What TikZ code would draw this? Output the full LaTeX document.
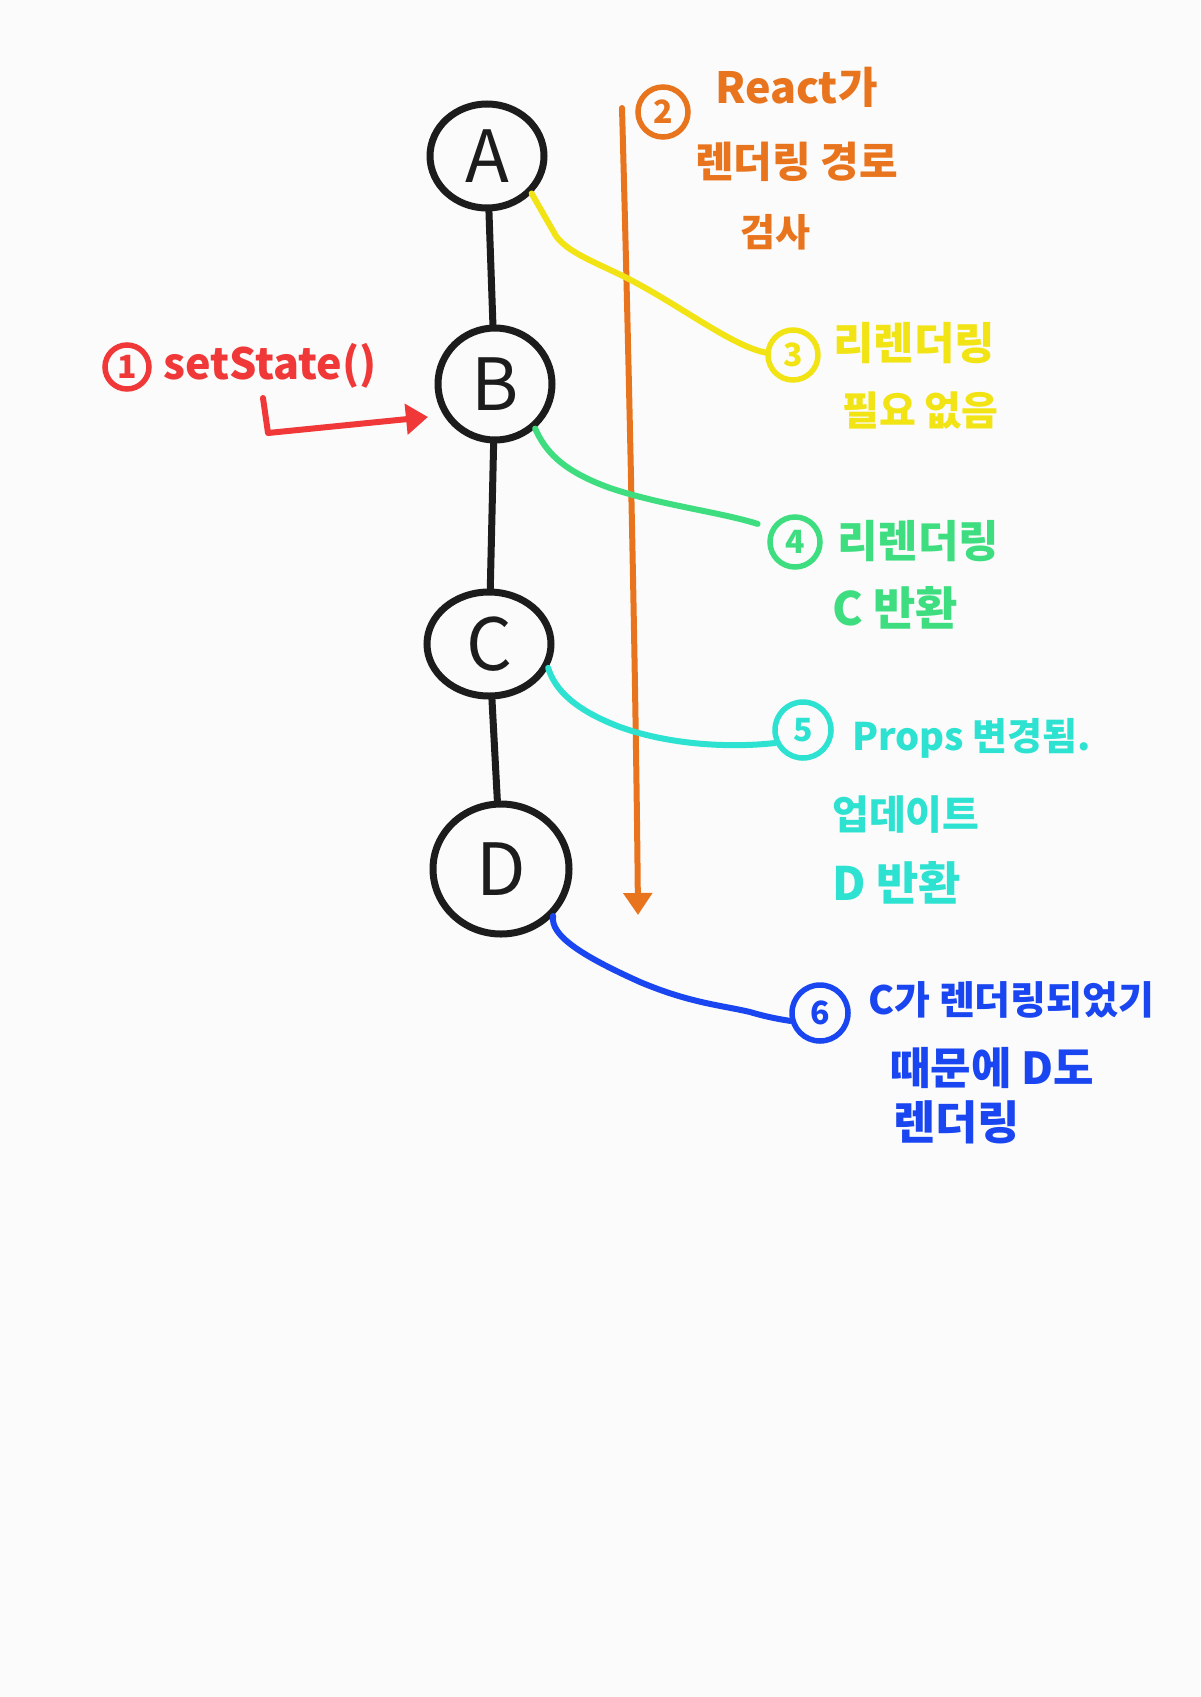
\documentclass[tikz,border=0pt]{standalone}
\usepackage{fontspec}
\newfontfamily\kr{Noto Sans CJK KR}
\usetikzlibrary{shapes.geometric,arrows.meta}
\definecolor{bgc}{RGB}{251,251,251}
\definecolor{cred}{RGB}{240,56,56}
\definecolor{corange}{RGB}{232,117,30}
\definecolor{cyellow}{RGB}{242,228,20}
\definecolor{cgreen}{RGB}{62,222,128}
\definecolor{ccyan}{RGB}{45,226,208}
\definecolor{cblue}{RGB}{25,70,240}
\definecolor{cink}{RGB}{28,28,28}
\tikzset{
  tnode/.style={ellipse, draw=cink, line width=7pt, inner sep=0pt, text=cink,
    font=\kr\fontsize{72}{72}\selectfont},
  numc/.style={circle, draw, line width=5.5pt, minimum size=#1, inner sep=0pt,
    font=\kr\bfseries\fontsize{32}{32}\selectfont},
  numc/.default=50pt,
  lbl/.style={inner sep=0pt, anchor=west, font=\kr\bfseries\fontsize{#1}{#1}\selectfont},
  lbl/.default=44,
  conn/.style={line width=6pt, line cap=round, line join=round},
  treeedge/.style={draw=cink, line width=7pt, line cap=round},
}
\begin{document}
\begin{tikzpicture}[x=1pt,y=-1pt]
\fill[bgc] (0,0) rectangle (1200,1697);
\useasboundingbox (0,0) rectangle (1200,1697);

% tree nodes
\node[tnode, minimum width=114pt, minimum height=104pt] (A) at (487,156) {A};
\node[tnode, minimum width=114pt, minimum height=112pt] (B) at (495,384) {B};
\node[tnode, minimum width=124pt, minimum height=104pt] (C) at (489,644) {C};
\node[tnode, minimum width=136pt, minimum height=130pt] (D) at (501,869) {D};
\draw[treeedge] (A) -- (B);
\draw[treeedge] (B) -- (C);
\draw[treeedge] (C) -- (D);

% 1 setState
\node[numc=44pt, draw=cred, text=cred] (n1) at (127,367) {1};
\node[lbl=43, text=cred] (t1) at (163,366) {setState()};
\coordinate (r1) at (263,398);
\coordinate (r2) at (268,433);
\coordinate (r3) at (428,417);
\draw[conn, cred, -{Triangle[length=22pt,width=30pt]}] (r1) -- (r2) -- (r3);

% 2 React
\coordinate (o1) at (622,108);
\coordinate (o2) at (638,915);
\draw[conn, corange, -{Triangle[length=22pt,width=28pt]}]
  (o1) .. controls (630,400) and (636,700) .. (o2);
\node[numc, draw=corange, text=corange] (n2) at (663,112) {2};
\node[lbl=43, text=corange] at (715,87) {React가};
\node[lbl=42, text=corange] at (695,162) {렌더링 경로};
\node[lbl=38, text=corange] at (740,232) {검사};

% 3
\node[numc, draw=cyellow, text=cyellow] (n3) at (793,355) {3};
\node[lbl=44, text=cyellow] at (833,343) {리렌더링};
\node[lbl=40, text=cyellow] at (842,411) {필요 없음};
\draw[conn, cyellow] (A.-40) -- (556,236) .. controls (568,252) and (590,260) .. (625,277)
  .. controls (680,305) and (730,345) .. (n3.175);

% 4
\node[numc, draw=cgreen, text=cgreen] (n4) at (795,542) {4};
\node[lbl=44, text=cgreen] at (837,541) {리렌더링};
\node[lbl=46, text=cgreen] at (832,608) {C 반환};
\draw[conn, cgreen, shorten >=14pt] (B.-48) .. controls (545,450) and (560,470) .. (610,488)
  .. controls (660,505) and (720,512) .. (n4.150);

% 5
\node[numc=56pt, draw=ccyan, text=ccyan] (n5) at (803,730) {5};
\node[lbl=38, text=ccyan] at (852,738) {Props 변경됨.};
\node[lbl=40, text=ccyan] at (832,815) {업데이트};
\node[lbl=46, text=ccyan] at (832,883) {D 반환};
\draw[conn, ccyan] (C.-22) .. controls (555,690) and (575,710) .. (620,727)
  .. controls (670,745) and (730,748) .. (n5.205);

% 6
\node[numc=56pt, draw=cblue, text=cblue] (n6) at (820,1013) {6};
\node[lbl=39, text=cblue] at (868,1000) {C가 렌더링되었기};
\node[lbl=44, text=cblue] at (890,1068) {때문에 D도};
\node[lbl=46, text=cblue] at (893,1122) {렌더링};
\draw[conn, cblue] (D.-42) .. controls (550,935) and (580,955) .. (640,982)
  .. controls (690,1003) and (720,1005) .. (750,1012)
  .. controls (770,1018) and (785,1020) .. (n6.195);
\end{tikzpicture}
\end{document}
